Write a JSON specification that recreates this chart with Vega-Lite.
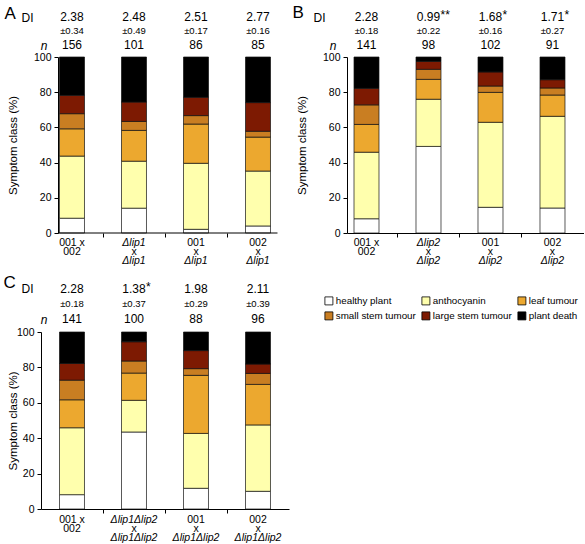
{
  "$schema": "https://vega.github.io/schema/vega-lite/v6.json",
  "autosize": {"type": "pad"},
  "padding": {"left": 3, "top": 3, "right": 0, "bottom": 0},
  "background": "white",
  "datasets": {
    "classes": [
      {"c":"healthy plant","rank":1},{"c":"anthocyanin","rank":2},{"c":"leaf tumour","rank":3},{"c":"small stem tumour","rank":4},{"c":"large stem tumour","rank":5},{"c":"plant death","rank":6}
    ],
    "bars": [
      {"p":"A","g":"A1","c":"healthy plant","v":8.4},{"p":"A","g":"A1","c":"anthocyanin","v":35.3},{"p":"A","g":"A1","c":"leaf tumour","v":15.5},{"p":"A","g":"A1","c":"small stem tumour","v":8.6},{"p":"A","g":"A1","c":"large stem tumour","v":10.4},{"p":"A","g":"A1","c":"plant death","v":21.8},
      {"p":"A","g":"A2","c":"healthy plant","v":14.1},{"p":"A","g":"A2","c":"anthocyanin","v":26.7},{"p":"A","g":"A2","c":"leaf tumour","v":17.5},{"p":"A","g":"A2","c":"small stem tumour","v":5.1},{"p":"A","g":"A2","c":"large stem tumour","v":11.0},{"p":"A","g":"A2","c":"plant death","v":25.6},
      {"p":"A","g":"A3","c":"healthy plant","v":2.1},{"p":"A","g":"A3","c":"anthocyanin","v":37.5},{"p":"A","g":"A3","c":"leaf tumour","v":22.3},{"p":"A","g":"A3","c":"small stem tumour","v":4.8},{"p":"A","g":"A3","c":"large stem tumour","v":10.4},{"p":"A","g":"A3","c":"plant death","v":22.9},
      {"p":"A","g":"A4","c":"healthy plant","v":4.0},{"p":"A","g":"A4","c":"anthocyanin","v":31.2},{"p":"A","g":"A4","c":"leaf tumour","v":19.3},{"p":"A","g":"A4","c":"small stem tumour","v":3.3},{"p":"A","g":"A4","c":"large stem tumour","v":16.3},{"p":"A","g":"A4","c":"plant death","v":25.9},
      {"p":"B","g":"B1","c":"healthy plant","v":8.1},{"p":"B","g":"B1","c":"anthocyanin","v":37.8},{"p":"B","g":"B1","c":"leaf tumour","v":15.8},{"p":"B","g":"B1","c":"small stem tumour","v":11.1},{"p":"B","g":"B1","c":"large stem tumour","v":9.4},{"p":"B","g":"B1","c":"plant death","v":17.8},
      {"p":"B","g":"B2","c":"healthy plant","v":49.2},{"p":"B","g":"B2","c":"anthocyanin","v":26.8},{"p":"B","g":"B2","c":"leaf tumour","v":11.3},{"p":"B","g":"B2","c":"small stem tumour","v":5.7},{"p":"B","g":"B2","c":"large stem tumour","v":4.5},{"p":"B","g":"B2","c":"plant death","v":2.5},
      {"p":"B","g":"B3","c":"healthy plant","v":14.6},{"p":"B","g":"B3","c":"anthocyanin","v":48.3},{"p":"B","g":"B3","c":"leaf tumour","v":17.0},{"p":"B","g":"B3","c":"small stem tumour","v":3.6},{"p":"B","g":"B3","c":"large stem tumour","v":8.0},{"p":"B","g":"B3","c":"plant death","v":8.5},
      {"p":"B","g":"B4","c":"healthy plant","v":14.2},{"p":"B","g":"B4","c":"anthocyanin","v":52.1},{"p":"B","g":"B4","c":"leaf tumour","v":12.1},{"p":"B","g":"B4","c":"small stem tumour","v":4.0},{"p":"B","g":"B4","c":"large stem tumour","v":4.7},{"p":"B","g":"B4","c":"plant death","v":12.9},
      {"p":"C","g":"C1","c":"healthy plant","v":8.1},{"p":"C","g":"C1","c":"anthocyanin","v":37.8},{"p":"C","g":"C1","c":"leaf tumour","v":15.8},{"p":"C","g":"C1","c":"small stem tumour","v":11.1},{"p":"C","g":"C1","c":"large stem tumour","v":9.4},{"p":"C","g":"C1","c":"plant death","v":17.8},
      {"p":"C","g":"C2","c":"healthy plant","v":43.5},{"p":"C","g":"C2","c":"anthocyanin","v":17.9},{"p":"C","g":"C2","c":"leaf tumour","v":15.4},{"p":"C","g":"C2","c":"small stem tumour","v":6.8},{"p":"C","g":"C2","c":"large stem tumour","v":10.9},{"p":"C","g":"C2","c":"plant death","v":5.5},
      {"p":"C","g":"C3","c":"healthy plant","v":11.7},{"p":"C","g":"C3","c":"anthocyanin","v":31.0},{"p":"C","g":"C3","c":"leaf tumour","v":32.8},{"p":"C","g":"C3","c":"small stem tumour","v":3.8},{"p":"C","g":"C3","c":"large stem tumour","v":10.2},{"p":"C","g":"C3","c":"plant death","v":10.5},
      {"p":"C","g":"C4","c":"healthy plant","v":10.0},{"p":"C","g":"C4","c":"anthocyanin","v":37.5},{"p":"C","g":"C4","c":"leaf tumour","v":22.9},{"p":"C","g":"C4","c":"small stem tumour","v":6.2},{"p":"C","g":"C4","c":"large stem tumour","v":5.3},{"p":"C","g":"C4","c":"plant death","v":18.1}
    ],
    "info": [
      {"p":"A","g":"A1","di":"2.38","sig":"","se":"±0.34","n":"156","l1":"001 x","l2":"002","l3":""},
      {"p":"A","g":"A2","di":"2.48","sig":"","se":"±0.49","n":"101","l1":"Δlip1","l2":"x","l3":"Δlip1"},
      {"p":"A","g":"A3","di":"2.51","sig":"","se":"±0.17","n":"86","l1":"001","l2":"x","l3":"Δlip1"},
      {"p":"A","g":"A4","di":"2.77","sig":"","se":"±0.16","n":"85","l1":"002","l2":"x","l3":"Δlip1"},
      {"p":"B","g":"B1","di":"2.28","sig":"","se":"±0.18","n":"141","l1":"001 x","l2":"002","l3":""},
      {"p":"B","g":"B2","di":"0.99","sig":"**","se":"±0.22","n":"98","l1":"Δlip2","l2":"x","l3":"Δlip2"},
      {"p":"B","g":"B3","di":"1.68","sig":"*","se":"±0.16","n":"102","l1":"001","l2":"x","l3":"Δlip2"},
      {"p":"B","g":"B4","di":"1.71","sig":"*","se":"±0.27","n":"91","l1":"002","l2":"x","l3":"Δlip2"},
      {"p":"C","g":"C1","di":"2.28","sig":"","se":"±0.18","n":"141","l1":"001 x","l2":"002","l3":""},
      {"p":"C","g":"C2","di":"1.38","sig":"*","se":"±0.37","n":"100","l1":"Δlip1Δlip2","l2":"x","l3":"Δlip1Δlip2"},
      {"p":"C","g":"C3","di":"1.98","sig":"","se":"±0.29","n":"88","l1":"001","l2":"x","l3":"Δlip1Δlip2"},
      {"p":"C","g":"C4","di":"2.11","sig":"","se":"±0.39","n":"96","l1":"002","l2":"x","l3":"Δlip1Δlip2"}
    ]
  },
  "columns": 2,
  "spacing": {"row": 5, "column": 58},
  "bounds": "flush",
  "align": "each",
  "resolve": {"scale": {"x": "independent", "y": "independent", "color": "shared"}, "axis": {"x": "independent", "y": "independent"}},
  "concat": [
    {
      "width": 248, "height": 42,
      "data": {"name": "info"},
      "transform": [{"filter": "datum.p == 'A'"}],
      "encoding": {"x": {"field": "g", "type": "nominal", "axis": null, "scale": {"type": "band", "domain": ["A1","A2","A3","A4"], "paddingInner": 0.371, "paddingOuter": 0.1855, "align": 0.5}}},
      "layer": [
        {"mark": {"type": "text", "fontSize": 12}, "encoding": {"text": {"field": "di"}, "y": {"datum": "DI", "type": "nominal", "scale": {"type": "point", "domain": ["DI","±","n"], "padding": 0.5}, "axis": {"orient": "left", "offset": -17, "domain": false, "ticks": false, "tickSize": 0, "labelFontSize": 12, "labelOverlap": false, "labelAlign": "right", "labelBaseline": "middle", "labelExpr": "datum.value == '±' ? '' : datum.value", "labelFontStyle": {"condition": {"test": "datum.value == 'n'", "value": "italic"}, "value": "normal"}, "labelPadding": {"condition": {"test": "datum.value == 'n'", "value": 11}, "value": 25}, "title": "A", "titleAngle": 0, "titleX": -54, "titleY": 8, "titleAlign": "left", "titleBaseline": "alphabetic", "titleFontSize": 17, "titleFontWeight": "normal"}}}},
        {"mark": {"type": "text", "fontSize": 12, "align": "left", "dx": 12, "dy": -2}, "encoding": {"text": {"field": "sig"}, "y": {"datum": "DI", "type": "nominal", "scale": {"type": "point", "domain": ["DI","±","n"], "padding": 0.5}}}},
        {"mark": {"type": "text", "fontSize": 9.5}, "encoding": {"text": {"field": "se"}, "y": {"datum": "±", "type": "nominal", "scale": {"type": "point", "domain": ["DI","±","n"], "padding": 0.5}}}},
        {"mark": {"type": "text", "fontSize": 12}, "encoding": {"text": {"field": "n"}, "y": {"datum": "n", "type": "nominal", "scale": {"type": "point", "domain": ["DI","±","n"], "padding": 0.5}}}}
      ]
    },
    {
      "width": 237, "height": 42,
      "data": {"name": "info"},
      "transform": [{"filter": "datum.p == 'B'"}],
      "encoding": {"x": {"field": "g", "type": "nominal", "axis": null, "scale": {"type": "band", "domain": ["B1","B2","B3","B4"], "paddingInner": 0.371, "paddingOuter": 0.0968, "align": 0}}},
      "layer": [
        {"mark": {"type": "text", "fontSize": 12}, "encoding": {"text": {"field": "di"}, "y": {"datum": "DI", "type": "nominal", "scale": {"type": "point", "domain": ["DI","±","n"], "padding": 0.5}, "axis": {"orient": "left", "domain": false, "ticks": false, "tickSize": 0, "labelFontSize": 12, "labelOverlap": false, "labelAlign": "right", "labelBaseline": "middle", "labelExpr": "datum.value == '±' ? '' : datum.value", "labelFontStyle": {"condition": {"test": "datum.value == 'n'", "value": "italic"}, "value": "normal"}, "labelPadding": {"condition": {"test": "datum.value == 'n'", "value": 11}, "value": 22}, "title": "B", "titleAngle": 0, "titleX": -55, "titleY": 7, "titleAlign": "left", "titleBaseline": "alphabetic", "titleFontSize": 17, "titleFontWeight": "normal"}}}},
        {"mark": {"type": "text", "fontSize": 12, "align": "left", "dx": 12, "dy": -2}, "encoding": {"text": {"field": "sig"}, "y": {"datum": "DI", "type": "nominal", "scale": {"type": "point", "domain": ["DI","±","n"], "padding": 0.5}}}},
        {"mark": {"type": "text", "fontSize": 9.5}, "encoding": {"text": {"field": "se"}, "y": {"datum": "±", "type": "nominal", "scale": {"type": "point", "domain": ["DI","±","n"], "padding": 0.5}}}},
        {"mark": {"type": "text", "fontSize": 12}, "encoding": {"text": {"field": "n"}, "y": {"datum": "n", "type": "nominal", "scale": {"type": "point", "domain": ["DI","±","n"], "padding": 0.5}}}}
      ]
    },
    {
      "width": 248, "height": 176,
      "layer": [
        {
          "data": {"name": "bars"},
          "transform": [{"filter": "datum.p == 'A'"}, {"lookup": "c", "from": {"data": {"name": "classes"}, "key": "c", "fields": ["rank"]}}],
          "mark": {"type": "bar", "width": {"band": 0.641}, "stroke": "#111111", "strokeWidth": 0.7},
          "encoding": {
            "x": {"field": "g", "type": "nominal", "scale": {"type": "band", "domain": ["A1","A2","A3","A4"], "paddingInner": 0.371, "paddingOuter": 0.1855, "align": 0.5}, "axis": {"domain": false, "values": ["A2","A3","A4"], "bandPosition": 0, "tickOffset": -11.5, "labels": false, "title": null, "tickSize": 4}},
            "y": {"field": "v", "type": "quantitative", "stack": "zero", "scale": {"domain": [0, 100]}, "axis": {"offset": -17, "values": [0,20,40,60,80,100], "labelOverlap": false, "labelFontSize": 10.5, "tickSize": 4, "labelPadding": 3, "title": "Symptom class (%)", "titleFontSize": 11.5, "titlePadding": 15}},
            "order": {"field": "rank", "type": "quantitative"},
            "color": {"field": "c", "type": "nominal", "sort": ["healthy plant","anthocyanin","leaf tumour","small stem tumour","large stem tumour","plant death"], "scale": {"domain": ["healthy plant","anthocyanin","leaf tumour","small stem tumour","large stem tumour","plant death"], "range": ["#FFFFFF","#FFFFAD","#ECA82F","#C97E22","#7D1A02","#000000"]}, "legend": {"title": null, "orient": "none", "legendX": 283, "legendY": 286, "direction": "horizontal", "columns": 3, "gridAlign": "none", "symbolType": "square", "symbolSize": 64, "symbolStrokeColor": "black", "symbolStrokeWidth": 0.8, "labelFontSize": 9.8, "labelColor": "black", "labelOffset": 2, "columnPadding": 4, "rowPadding": 3, "padding": 0, "labelLimit": 200}}
          }
        },
        {
          "data": {"values": [{"part": "baseline"}]},
          "mark": {"type": "rule", "color": "black", "strokeWidth": 1},
          "encoding": {"x": {"datum": "A1", "bandPosition": 0.14}, "x2": {"datum": "A4", "bandPosition": 1}, "y": {"datum": 0, "type": "quantitative", "axis": {"offset": -17, "values": [0,20,40,60,80,100], "labelOverlap": false, "labelFontSize": 10.5, "tickSize": 4, "labelPadding": 3, "title": "Symptom class (%)", "titleFontSize": 11.5, "titlePadding": 15}}}
        }
      ]
    },
    {
      "width": 237, "height": 176,
      "data": {"name": "bars"},
      "transform": [{"filter": "datum.p == 'B'"}, {"lookup": "c", "from": {"data": {"name": "classes"}, "key": "c", "fields": ["rank"]}}],
      "mark": {"type": "bar", "width": {"band": 0.641}, "stroke": "#111111", "strokeWidth": 0.7},
      "encoding": {
        "x": {"field": "g", "type": "nominal", "scale": {"type": "band", "domain": ["B1","B2","B3","B4"], "paddingInner": 0.371, "paddingOuter": 0.0968, "align": 0}, "axis": {"values": ["B2","B3","B4"], "bandPosition": 0, "tickOffset": -11.5, "labels": false, "title": null, "tickSize": 4}},
        "y": {"field": "v", "type": "quantitative", "stack": "zero", "scale": {"domain": [0, 100]}, "axis": {"values": [0,20,40,60,80,100], "labelOverlap": false, "labelFontSize": 10.5, "tickSize": 4, "labelPadding": 3, "title": "Symptom class (%)", "titleFontSize": 11.5, "titlePadding": 15}},
        "order": {"field": "rank", "type": "quantitative"},
        "color": {"field": "c", "type": "nominal", "sort": ["healthy plant","anthocyanin","leaf tumour","small stem tumour","large stem tumour","plant death"], "scale": {"domain": ["healthy plant","anthocyanin","leaf tumour","small stem tumour","large stem tumour","plant death"], "range": ["#FFFFFF","#FFFFAD","#ECA82F","#C97E22","#7D1A02","#000000"]}, "legend": {"title": null, "orient": "none", "legendX": 283, "legendY": 286, "direction": "horizontal", "columns": 3, "gridAlign": "none", "symbolType": "square", "symbolSize": 64, "symbolStrokeColor": "black", "symbolStrokeWidth": 0.8, "labelFontSize": 9.8, "labelColor": "black", "labelOffset": 2, "columnPadding": 4, "rowPadding": 3, "padding": 0, "labelLimit": 200}}
      }
    },
    {
      "width": 248, "height": 38,
      "data": {"name": "info"},
      "transform": [{"filter": "datum.p == 'A'"}],
      "encoding": {"x": {"field": "g", "type": "nominal", "axis": null, "scale": {"type": "band", "domain": ["A1","A2","A3","A4"], "paddingInner": 0.371, "paddingOuter": 0.1855, "align": 0.5}}},
      "layer": [
        {"transform": [{"filter": "!test(/lip/, datum.l1)"}], "mark": {"type": "text", "fontSize": 10.5}, "encoding": {"text": {"field": "l1"}, "y": {"datum": "1", "type": "nominal", "axis": null, "scale": {"type": "band", "domain": ["1","2","3"], "paddingInner": 0, "paddingOuter": 0.611, "align": 0}}}},
        {"transform": [{"filter": "test(/lip/, datum.l1)"}], "mark": {"type": "text", "fontSize": 10.5, "fontStyle": "italic"}, "encoding": {"text": {"field": "l1"}, "y": {"datum": "1", "type": "nominal", "axis": null, "scale": {"type": "band", "domain": ["1","2","3"], "paddingInner": 0, "paddingOuter": 0.611, "align": 0}}}},
        {"mark": {"type": "text", "fontSize": 10.5}, "encoding": {"text": {"field": "l2"}, "y": {"datum": "2", "type": "nominal", "axis": null, "scale": {"type": "band", "domain": ["1","2","3"], "paddingInner": 0, "paddingOuter": 0.611, "align": 0}}}},
        {"mark": {"type": "text", "fontSize": 10.5, "fontStyle": "italic"}, "encoding": {"text": {"field": "l3"}, "y": {"datum": "3", "type": "nominal", "axis": null, "scale": {"type": "band", "domain": ["1","2","3"], "paddingInner": 0, "paddingOuter": 0.611, "align": 0}}}}
      ]
    },
    {
      "width": 237, "height": 38,
      "data": {"name": "info"},
      "transform": [{"filter": "datum.p == 'B'"}],
      "encoding": {"x": {"field": "g", "type": "nominal", "axis": null, "scale": {"type": "band", "domain": ["B1","B2","B3","B4"], "paddingInner": 0.371, "paddingOuter": 0.0968, "align": 0}}},
      "layer": [
        {"transform": [{"filter": "!test(/lip/, datum.l1)"}], "mark": {"type": "text", "fontSize": 10.5}, "encoding": {"text": {"field": "l1"}, "y": {"datum": "1", "type": "nominal", "axis": null, "scale": {"type": "band", "domain": ["1","2","3"], "paddingInner": 0, "paddingOuter": 0.611, "align": 0}}}},
        {"transform": [{"filter": "test(/lip/, datum.l1)"}], "mark": {"type": "text", "fontSize": 10.5, "fontStyle": "italic"}, "encoding": {"text": {"field": "l1"}, "y": {"datum": "1", "type": "nominal", "axis": null, "scale": {"type": "band", "domain": ["1","2","3"], "paddingInner": 0, "paddingOuter": 0.611, "align": 0}}}},
        {"mark": {"type": "text", "fontSize": 10.5}, "encoding": {"text": {"field": "l2"}, "y": {"datum": "2", "type": "nominal", "axis": null, "scale": {"type": "band", "domain": ["1","2","3"], "paddingInner": 0, "paddingOuter": 0.611, "align": 0}}}},
        {"mark": {"type": "text", "fontSize": 10.5, "fontStyle": "italic"}, "encoding": {"text": {"field": "l3"}, "y": {"datum": "3", "type": "nominal", "axis": null, "scale": {"type": "band", "domain": ["1","2","3"], "paddingInner": 0, "paddingOuter": 0.611, "align": 0}}}}
      ]
    },
    {
      "width": 248, "height": 46,
      "data": {"name": "info"},
      "transform": [{"filter": "datum.p == 'C'"}],
      "encoding": {"x": {"field": "g", "type": "nominal", "axis": null, "scale": {"type": "band", "domain": ["C1","C2","C3","C4"], "paddingInner": 0.371, "paddingOuter": 0.1855, "align": 0.5}}},
      "layer": [
        {"mark": {"type": "text", "fontSize": 12}, "encoding": {"text": {"field": "di"}, "y": {"datum": "DI", "type": "nominal", "scale": {"type": "point", "domain": ["DI","±","n"], "padding": 0.5}, "axis": {"orient": "left", "offset": -17, "domain": false, "ticks": false, "tickSize": 0, "labelFontSize": 12, "labelOverlap": false, "labelAlign": "right", "labelBaseline": "middle", "labelExpr": "datum.value == '±' ? '' : datum.value", "labelFontStyle": {"condition": {"test": "datum.value == 'n'", "value": "italic"}, "value": "normal"}, "labelPadding": {"condition": {"test": "datum.value == 'n'", "value": 11}, "value": 25}, "title": "C", "titleAngle": 0, "titleX": -55, "titleY": 6, "titleAlign": "left", "titleBaseline": "alphabetic", "titleFontSize": 17, "titleFontWeight": "normal"}}}},
        {"mark": {"type": "text", "fontSize": 12, "align": "left", "dx": 12, "dy": -2}, "encoding": {"text": {"field": "sig"}, "y": {"datum": "DI", "type": "nominal", "scale": {"type": "point", "domain": ["DI","±","n"], "padding": 0.5}}}},
        {"mark": {"type": "text", "fontSize": 9.5}, "encoding": {"text": {"field": "se"}, "y": {"datum": "±", "type": "nominal", "scale": {"type": "point", "domain": ["DI","±","n"], "padding": 0.5}}}},
        {"mark": {"type": "text", "fontSize": 12}, "encoding": {"text": {"field": "n"}, "y": {"datum": "n", "type": "nominal", "scale": {"type": "point", "domain": ["DI","±","n"], "padding": 0.5}}}}
      ]
    },
    {
      "width": 1, "height": 1,
      "data": {"values": [{"part": "spacer"}]},
      "mark": {"type": "text"},
      "encoding": {"text": {"value": ""}}
    },
    {
      "width": 248, "height": 177,
      "data": {"name": "bars"},
      "transform": [{"filter": "datum.p == 'C'"}, {"lookup": "c", "from": {"data": {"name": "classes"}, "key": "c", "fields": ["rank"]}}],
      "mark": {"type": "bar", "width": {"band": 0.641}, "stroke": "#111111", "strokeWidth": 0.7},
      "encoding": {
        "x": {"field": "g", "type": "nominal", "scale": {"type": "band", "domain": ["C1","C2","C3","C4"], "paddingInner": 0.371, "paddingOuter": 0.1855, "align": 0.5}, "axis": {"values": ["C2","C3","C4"], "bandPosition": 0, "tickOffset": -11.5, "labels": false, "title": null, "tickSize": 4}},
        "y": {"field": "v", "type": "quantitative", "stack": "zero", "scale": {"domain": [0, 100]}, "axis": {"values": [0,20,40,60,80,100], "labelOverlap": false, "labelFontSize": 10.5, "tickSize": 4, "labelPadding": 3, "title": "Symptom class (%)", "titleFontSize": 11.5, "titlePadding": -2}},
        "order": {"field": "rank", "type": "quantitative"},
        "color": {"field": "c", "type": "nominal", "sort": ["healthy plant","anthocyanin","leaf tumour","small stem tumour","large stem tumour","plant death"], "scale": {"domain": ["healthy plant","anthocyanin","leaf tumour","small stem tumour","large stem tumour","plant death"], "range": ["#FFFFFF","#FFFFAD","#ECA82F","#C97E22","#7D1A02","#000000"]}, "legend": {"title": null, "orient": "none", "legendX": 283, "legendY": 286, "direction": "horizontal", "columns": 3, "gridAlign": "none", "symbolType": "square", "symbolSize": 64, "symbolStrokeColor": "black", "symbolStrokeWidth": 0.8, "labelFontSize": 9.8, "labelColor": "black", "labelOffset": 2, "columnPadding": 4, "rowPadding": 3, "padding": 0, "labelLimit": 200}}
      }
    },
    {
      "width": 1, "height": 1,
      "data": {"values": [{"part": "spacer"}]},
      "mark": {"type": "text"},
      "encoding": {"text": {"value": ""}}
    },
    {
      "width": 248, "height": 30,
      "data": {"name": "info"},
      "transform": [{"filter": "datum.p == 'C'"}],
      "encoding": {"x": {"field": "g", "type": "nominal", "axis": null, "scale": {"type": "band", "domain": ["C1","C2","C3","C4"], "paddingInner": 0.371, "paddingOuter": 0.1855, "align": 0.5}}},
      "layer": [
        {"transform": [{"filter": "!test(/lip/, datum.l1)"}], "mark": {"type": "text", "fontSize": 10.5}, "encoding": {"text": {"field": "l1"}, "y": {"datum": "1", "type": "nominal", "axis": null, "scale": {"type": "band", "domain": ["1","2","3"], "paddingInner": 0, "paddingOuter": 0.1667, "align": 0.6}}}},
        {"transform": [{"filter": "test(/lip/, datum.l1)"}], "mark": {"type": "text", "fontSize": 10.5, "fontStyle": "italic"}, "encoding": {"text": {"field": "l1"}, "y": {"datum": "1", "type": "nominal", "axis": null, "scale": {"type": "band", "domain": ["1","2","3"], "paddingInner": 0, "paddingOuter": 0.1667, "align": 0.6}}}},
        {"mark": {"type": "text", "fontSize": 10.5}, "encoding": {"text": {"field": "l2"}, "y": {"datum": "2", "type": "nominal", "axis": null, "scale": {"type": "band", "domain": ["1","2","3"], "paddingInner": 0, "paddingOuter": 0.1667, "align": 0.6}}}},
        {"mark": {"type": "text", "fontSize": 10.5, "fontStyle": "italic"}, "encoding": {"text": {"field": "l3"}, "y": {"datum": "3", "type": "nominal", "axis": null, "scale": {"type": "band", "domain": ["1","2","3"], "paddingInner": 0, "paddingOuter": 0.1667, "align": 0.6}}}}
      ]
    }
  ],
  "config": {
    "font": "Liberation Sans",
    "view": {"stroke": null},
    "axis": {"grid": false, "labelColor": "black", "titleColor": "black", "domainColor": "black", "tickColor": "black", "labelFont": "Liberation Sans", "titleFont": "Liberation Sans", "titleFontWeight": "normal", "domainWidth": 1, "tickWidth": 1},
    "text": {"font": "Liberation Sans", "color": "black"},
    "legend": {"labelFont": "Liberation Sans", "gridAlign": "none"}
  }
}
